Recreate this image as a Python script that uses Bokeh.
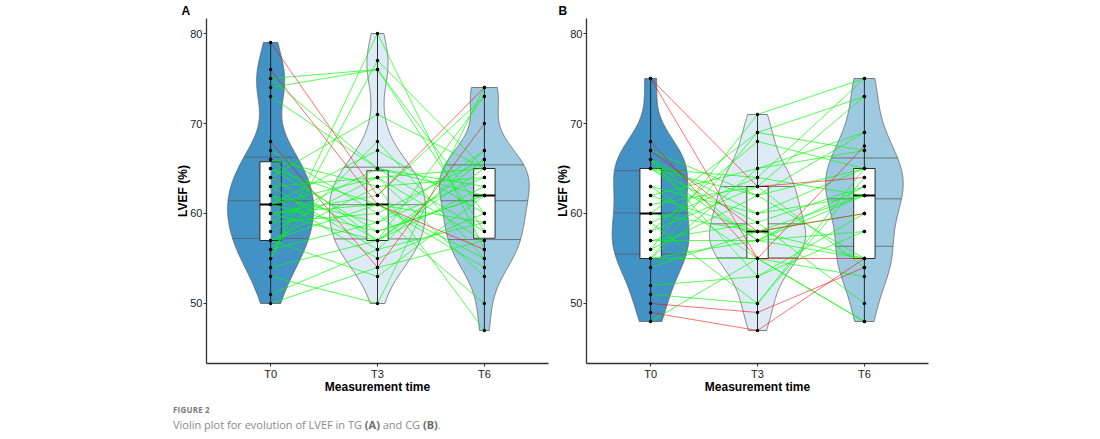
import numpy as np
from bokeh.plotting import figure
from bokeh.models import Range1d, FixedTicker, Div
from bokeh.layouts import row, column
from bokeh.embed import file_html
from bokeh.resources import INLINE

# ---------------- data ----------------
times = ["T0", "T3", "T6"]
y_ticks = [50, 60, 70, 80]

# Panel A (TG): one entry per patient, same order in the three lists
tg_t0 = [79, 76, 75, 75, 74, 73, 68, 67, 66, 66, 65, 65, 64, 64, 63, 63, 62, 62, 61,
         61, 61, 60, 60, 60, 59, 59, 58, 57, 57, 57, 56, 56, 55, 55, 54, 53, 51, 50]
tg_t3 = [62, 61, 76, 65, 76, 65, 54, 60, 57, 63, 58, 61, 57, 71, 56, 64, 55, 59, 64,
         58, 67, 57, 62, 61, 65, 60, 64, 61, 53, 63, 68, 59, 77, 80, 57, 50, 56, 54]
tg_t6 = [74, 56, 58, 63, 60, 62, 70, 66, 65, 64, 62, 55, 66, 65, 59, 57, 60, 67, 53,
         62, 60, 63, 73, 54, 58, 50, 65, 59, 62, 47, 55, 64, 65, 56, 73, 74, 67, 57]
tg_red = [0, 1, 6]

# Panel B (CG)
cg_t0 = [75, 75, 68, 67, 67, 66, 66, 66, 65, 65, 65, 65, 63, 63, 62, 62, 61, 60, 60,
         59, 59, 58, 58, 57, 57, 56, 56, 55, 55, 55, 55, 54, 52, 51, 50, 49, 48]
cg_t3 = [63, 55, 55, 58, 62, 57, 60, 53, 59, 64, 62, 57, 60, 55, 65, 58, 63, 69, 58,
         64, 50, 63, 68, 57, 59, 62, 71, 65, 57, 55, 69, 58, 53, 50, 49, 47, 55]
cg_t6 = [64, 55, 67.5, 60, 69, 62, 65, 58, 63, 75, 65, 55, 62, 48, 67, 60, 73, 67, 55,
         62, 65, 54, 65, 63, 50, 55, 75, 69, 58, 53, 73, 62, 60, 64, 54, 55, 48]
cg_red = [0, 1, 2, 3, 34, 35]

# ---------------- style ----------------
VIOLIN_COLORS = ["#4292c6", "#deebf7", "#9ecae1"]
OUTLINE = "#5e5e5e"
FONT = "Liberation Sans"
GREEN = "#00ff00"
RED = "#ff0000"
Y_LO, Y_HI = 43.33, 81.67
X_LO, X_HI = 0.4, 3.6
FRAME_W, FRAME_H = 342, 345


def kde(vals, npts=512):
    v = np.asarray(vals, dtype=float)
    n = len(v)
    sd = v.std(ddof=1)
    q75, q25 = np.percentile(v, [75, 25])
    bw = 0.9 * min(sd, (q75 - q25) / 1.34) * n ** -0.2
    y = np.linspace(v.min(), v.max(), npts)
    d = np.exp(-0.5 * ((y[:, None] - v[None, :]) / bw) ** 2).sum(axis=1) / (n * bw * np.sqrt(2 * np.pi))
    return y, d


def make_fig(mbl, mbr, letter, letter_dx_px):
    p = figure(width=mbl + FRAME_W + mbr, height=18 + FRAME_H + 42,
               x_range=Range1d(X_LO, X_HI), y_range=Range1d(Y_LO, Y_HI),
               output_backend="svg", toolbar_location=None,
               min_border_left=mbl, min_border_right=mbr,
               min_border_top=18, min_border_bottom=42,
               background_fill_color="white", border_fill_color="white",
               title=letter)
    p.title.align = "left"
    p.title.offset = letter_dx_px
    p.title.standoff = 1
    p.title.text_font = FONT
    p.title.text_font_size = "12px"
    p.title.text_font_style = "bold"
    p.title.text_color = "black"
    p.outline_line_color = None
    p.xgrid.visible = False
    p.ygrid.visible = False
    p.xaxis.ticker = FixedTicker(ticks=[1, 2, 3])
    p.xaxis.major_label_overrides = {i + 1: t for i, t in enumerate(times)}
    p.yaxis.ticker = FixedTicker(ticks=y_ticks)
    for ax in (p.xaxis[0], p.yaxis[0]):
        ax.axis_line_color = "#333333"
        ax.axis_line_width = 1.3
        ax.major_tick_line_color = "#333333"
        ax.major_tick_line_width = 1.1
        ax.major_tick_in = 0
        ax.major_tick_out = 3
        ax.minor_tick_line_color = None
        ax.major_label_text_font = FONT
        ax.major_label_text_font_size = "11px"
        ax.major_label_text_color = "#222222"
        ax.major_label_standoff = 1
        ax.axis_label_text_font = FONT
        ax.axis_label_text_font_size = "12px"
        ax.axis_label_text_font_style = "bold"
        ax.axis_label_text_color = "black"
        ax.axis_label_standoff = -3
    p.xaxis.axis_label = "Measurement time"
    p.yaxis.axis_label = "LVEF (%)"
    return p


def draw_panel(p, t0, t3, t6, red_idx, half_fill):
    groups = [t0, t3, t6]
    xs = [1, 2, 3]
    dens = [kde(g) for g in groups]
    dmax = max(d.max() for _, d in dens)
    # violins
    for i, (yg, d) in enumerate(dens):
        w = 0.45 * d / dmax
        px = np.concatenate([xs[i] - w, (xs[i] + w)[::-1]])
        py = np.concatenate([yg, yg[::-1]])
        p.patch(px, py, fill_color=VIOLIN_COLORS[i], line_color=OUTLINE, line_width=0.8)
        cdf = np.cumsum(d) / d.sum()
        qy = np.interp([0.25, 0.5, 0.75], cdf, yg)
        qw = np.interp(qy, yg, w)
        p.segment(xs[i] - qw, qy, xs[i] + qw, qy, line_color=OUTLINE, line_width=0.8)
    # boxes
    bw = 0.1
    for i, g in enumerate(groups):
        q1, med, q3 = np.percentile(g, [25, 50, 75])
        x = xs[i]
        p.segment([x, x], [min(g), q3], [x, x], [q1, max(g)], line_color="#1a1a1a", line_width=0.9)
        p.quad(left=[x - bw], right=[x + bw], bottom=[q1], top=[q3],
               fill_color="white", line_color=None)
        if half_fill[i]:
            p.quad(left=[x], right=[x + bw], bottom=[q1], top=[q3],
                   fill_color=VIOLIN_COLORS[i], line_color=None)
        p.quad(left=[x - bw], right=[x + bw], bottom=[q1], top=[q3],
               fill_color=None, line_color="#1a1a1a", line_width=0.9)
        p.segment([x - bw], [med], [x + bw], [med], line_color="black", line_width=1.8)
    # patient lines: green first, red on top
    n = len(t0)
    for red in (False, True):
        idx = [k for k in range(n) if (k in red_idx) == red]
        if not idx:
            continue
        p.multi_line(xs=[xs for _ in idx], ys=[[t0[k], t3[k], t6[k]] for k in idx],
                     line_color=RED if red else GREEN, line_alpha=0.7 if red else 0.85,
                     line_width=0.8)
    # points
    for i, g in enumerate(groups):
        p.scatter([xs[i]] * len(g), g, size=3.4, fill_color="black", line_color=None)


pA = make_fig(206, 2, "A", -25)
draw_panel(pA, tg_t0, tg_t3, tg_t6, tg_red, [True, False, False])
pB = make_fig(36, 10, "B", -28)
draw_panel(pB, cg_t0, cg_t3, cg_t6, cg_red, [False, False, False])

caption = Div(
    text=('<div style="font-family:\'Open Sans\',\'Noto Sans\',sans-serif;color:#8a8a8a;line-height:1.25;">'
          '<div style="font-size:8px;font-weight:bold;color:#7a7a7a;letter-spacing:0.2px;">FIGURE 2</div>'
          '<div style="font-size:11px;margin-top:3px;">Violin plot for evolution of LVEF in TG '
          '<b style="color:#6a6a6a;">(A)</b> and CG <b style="color:#6a6a6a;">(B)</b>.</div></div>'),
    width=500, height=30, margin=(0, 0, 0, 173))

layout = column(row(pA, pB), caption)
open("out.html", "w").write(file_html(layout, INLINE))
